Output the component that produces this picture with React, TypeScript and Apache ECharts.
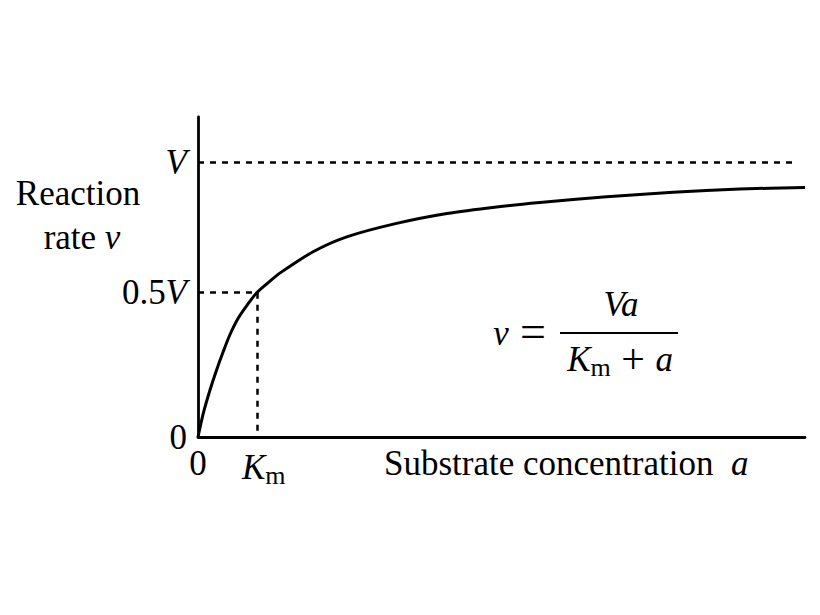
import React, { useEffect, useRef } from "react";
import * as echarts from "echarts";

// Curve (x in units of Km, y in units of V)
const concentration = [0, 0.088, 0.2, 0.31, 0.42, 0.53, 0.67, 0.84, 0.98, 1.2, 1.37, 1.92, 2.48, 3.31, 4.15, 4.98, 5.7, 6.81, 7.92, 9.03, 10.12];
const rate = [0, 0.086, 0.171, 0.244, 0.31, 0.371, 0.432, 0.486, 0.525, 0.567, 0.597, 0.674, 0.728, 0.777, 0.813, 0.837, 0.853, 0.874, 0.89, 0.902, 0.908];

const Vmax = 1;
const halfV = 0.525;
const Km = 0.98;
const vLineEnd = 10.0;
const xMax = 10.12;
const yMax = 1.164;

const yTickValues = [0, halfV, Vmax];
const yTickLabels = ["0", "{n|0.5}{i|V}", "{i|V}"];
const xTickValues = [0, Km];
const xTickLabels = ["0", "{k|K}{s|m}"];

const FONT = "Liberation Serif";
const FS = 35;

const rich = {
  n: { fontFamily: FONT, fontSize: FS, color: "#000", lineHeight: 42, verticalAlign: "middle" as const },
  i: { fontFamily: FONT, fontSize: FS, fontStyle: "italic" as const, color: "#000", lineHeight: 42, verticalAlign: "middle" as const },
  k: { fontFamily: FONT, fontSize: FS, fontStyle: "italic" as const, color: "#000", lineHeight: 42, verticalAlign: "middle" as const, padding: [0, 0, 0, 14] },
  s: { fontFamily: FONT, fontSize: 26, color: "#000", lineHeight: 42, verticalAlign: "bottom" as const },
};

function pick(values: number[], labels: string[], v: number) {
  for (let k = 0; k < values.length; k++) if (Math.abs(values[k] - v) < 1e-6) return labels[k];
  return "";
}

const italic = { fontFamily: FONT, fontSize: FS, fontStyle: "italic", fill: "#000" };

export default function App() {
  const ref = useRef<HTMLDivElement>(null);
  useEffect(() => {
    if (!ref.current) return;
    const chart = echarts.init(ref.current, undefined, { renderer: "svg" });
    const dashed = { type: [6, 6] as number[], width: 2.5, color: "#000" };
    chart.setOption({
      animation: false,
      backgroundColor: "#fff",
      grid: { left: 198, right: 15, top: 117, bottom: 178 },
      xAxis: {
        type: "value",
        min: 0,
        max: xMax,
        axisLine: { show: true, lineStyle: { color: "#000", width: 2.8 } },
        axisTick: { show: false },
        splitLine: { show: false },
        axisLabel: {
          customValues: xTickValues,
          margin: 9,
          fontFamily: FONT,
          fontSize: FS,
          color: "#000",
          formatter: (v: number) => pick(xTickValues, xTickLabels, v),
          rich,
        },
      },
      yAxis: {
        type: "value",
        min: 0,
        max: yMax,
        axisLine: { show: true, lineStyle: { color: "#000", width: 2.8 } },
        axisTick: { show: false },
        splitLine: { show: false },
        axisLabel: {
          customValues: yTickValues,
          margin: 11,
          fontFamily: FONT,
          fontSize: FS,
          color: "#000",
          formatter: (v: number) => pick(yTickValues, yTickLabels, v),
          rich,
        },
      },
      series: [
        {
          type: "line",
          data: concentration.map((x, k) => [x, rate[k]]),
          smooth: 0.25,
          showSymbol: false,
          lineStyle: { color: "#000", width: 3 },
          markLine: {
            silent: true,
            symbol: ["none", "none"],
            label: { show: false },
            lineStyle: dashed,
            data: [
              [{ coord: [0, Vmax] }, { coord: [vLineEnd, Vmax] }],
              [{ coord: [0, halfV] }, { coord: [Km, halfV] }],
              [{ coord: [Km, halfV] }, { coord: [Km, 0] }],
            ],
          },
        },
      ],
      graphic: [
        {
          type: "text",
          x: 78,
          y: 193,
          style: { text: "Reaction", font: `${FS}px "${FONT}"`, fill: "#000", align: "center", verticalAlign: "middle" },
        },
        {
          type: "text",
          x: 82,
          y: 237,
          style: {
            text: "rate {i|v}",
            font: `${FS}px "${FONT}"`,
            fill: "#000",
            align: "center",
            verticalAlign: "middle",
            rich: { i: italic },
          },
        },
        {
          type: "text",
          x: 384,
          y: 463,
          style: {
            text: "Substrate concentration  {i|a}",
            font: `${FS}px "${FONT}"`,
            fill: "#000",
            verticalAlign: "middle",
            rich: { i: italic },
          },
        },
        {
          type: "text",
          x: 501,
          y: 333,
          style: {
            text: "{i|v}",
            fill: "#000",
            align: "center",
            verticalAlign: "middle",
            rich: { i: italic },
          },
        },
        {
          type: "text",
          x: 533,
          y: 331,
          style: {
            text: "=",
            font: `46px "${FONT}"`,
            fill: "#000",
            align: "center",
            verticalAlign: "middle",
          },
        },
        {
          type: "line",
          shape: { x1: 560, y1: 333, x2: 678, y2: 333 },
          style: { stroke: "#000", lineWidth: 2 },
        },
        {
          type: "text",
          x: 621,
          y: 304,
          style: {
            text: "{i|Va}",
            fill: "#000",
            align: "center",
            verticalAlign: "middle",
            rich: { i: italic },
          },
        },
        {
          type: "text",
          x: 620,
          y: 359,
          style: {
            text: "{i|K}{s|m}{p| + }{i|a}",
            fill: "#000",
            align: "center",
            verticalAlign: "middle",
            rich: {
              i: { ...italic, lineHeight: 42, verticalAlign: "middle" },
              p: { fontFamily: FONT, fontSize: 42, fill: "#000", lineHeight: 42, verticalAlign: "middle" },
              s: { fontFamily: FONT, fontSize: 26, fill: "#000", lineHeight: 42, verticalAlign: "bottom" },
            },
          },
        },
      ],
    });
    return () => chart.dispose();
  }, []);
  return (
    <div
      ref={ref}
      style={{ position: "fixed", left: 0, top: 0, width: 820, height: 615, background: "#fff" }}
    />
  );
}
